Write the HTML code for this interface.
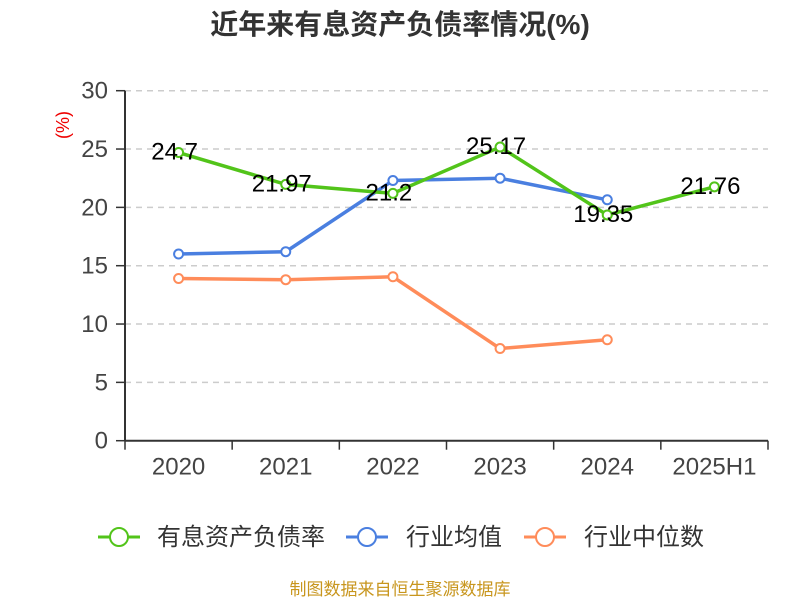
<!DOCTYPE html>
<html><head><meta charset="utf-8"><style>
html,body{margin:0;padding:0;background:#fff;}
svg text{font-family:"Liberation Sans","Noto Sans CJK SC",sans-serif;}
</style></head><body>
<svg id="chart" width="800" height="600" xmlns="http://www.w3.org/2000/svg">
<text x="400" y="34" text-anchor="middle" font-size="28" font-weight="bold" fill="#333">近年来有息资产负债率情况(%)</text>
<text transform="translate(69,125) rotate(-90)" text-anchor="middle" font-size="18" fill="#e00">(%)</text>
<g id="grid"></g><g id="axes"></g><g id="series"></g>
<g>
 <g><line x1="98" y1="537" x2="140" y2="537" stroke="#52c41a" stroke-width="3"/><circle cx="119" cy="537" r="9" fill="#fff" stroke="#52c41a" stroke-width="2"/><text x="157" y="545" font-size="24" fill="#333">有息资产负债率</text></g>
 <g><line x1="346" y1="537" x2="388" y2="537" stroke="#4a7fe0" stroke-width="3"/><circle cx="367" cy="537" r="9" fill="#fff" stroke="#4a7fe0" stroke-width="2"/><text x="406" y="545" font-size="24" fill="#333">行业均值</text></g>
 <g><line x1="524" y1="537" x2="566" y2="537" stroke="#ff8c5a" stroke-width="3"/><circle cx="545" cy="537" r="9" fill="#fff" stroke="#ff8c5a" stroke-width="2"/><text x="584" y="545" font-size="24" fill="#333">行业中位数</text></g>
</g>
<text x="400" y="595" text-anchor="middle" font-size="17" fill="#c8961e">制图数据来自恒生聚源数据库</text>
</svg>
<script>
const categories=["2020","2021","2022","2023","2024","2025H1"];
const debtRatio=[24.7,21.97,21.2,25.17,19.35,21.76];
const industryAvg=[16.0,16.2,22.3,22.5,20.65];
const industryMedian=[13.9,13.8,14.05,7.9,8.65];
const yTicks=[0,5,10,15,20,25,30];
const NS="http://www.w3.org/2000/svg";
const x0=125,x1=768,yTop=90.7,yBot=440.7,yMax=30;
const band=(x1-x0)/categories.length;
const xs=i=>x0+band*(i+0.5);
const ys=v=>yBot-(v/yMax)*(yBot-yTop);
function mk(tag,attrs,parent){const e=document.createElementNS(NS,tag);for(const k in attrs)e.setAttribute(k,attrs[k]);parent.appendChild(e);return e;}
const grid=document.getElementById('grid'),axes=document.getElementById('axes'),ser=document.getElementById('series');
yTicks.forEach(t=>{
 const y=ys(t);
 if(t>0){const g=mk('line',{x1:x0,x2:x1,y1:y,y2:y,stroke:'#ccc','stroke-dasharray':'6,5','stroke-width':1.5},grid);
 
 }
 mk('line',{x1:x0-9,x2:x0,y1:y,y2:y,stroke:'#333','stroke-width':1.5},axes);
 const l=mk('text',{x:x0-17,y:y+8,'text-anchor':'end','font-size':24,fill:'#444'},axes);l.textContent=t;
 
 
});
mk('line',{x1:x0,x2:x0,y1:yTop,y2:yBot,stroke:'#333','stroke-width':2},axes);
mk('line',{x1:x0,x2:x1,y1:yBot,y2:yBot,stroke:'#333','stroke-width':2},axes);
for(let i=0;i<=categories.length;i++){mk('line',{x1:x0+band*i,x2:x0+band*i,y1:yBot,y2:yBot+9,stroke:'#333','stroke-width':1.5},axes);}
categories.forEach((c,i)=>{const t=mk('text',{x:xs(i),y:yBot+34,'text-anchor':'middle','font-size':24,fill:'#444'},axes);t.textContent=c;
 
 });
function series(vals,color,name,labels){
 const g=mk('g',{},ser);
 
 
 mk('polyline',{points:vals.map((v,i)=>xs(i)+','+ys(v)).join(' '),fill:'none',stroke:color,'stroke-width':3.5},g);
 vals.forEach((v,i)=>{const c=mk('circle',{cx:xs(i),cy:ys(v),r:4.5,fill:'#fff',stroke:color,'stroke-width':2},g);
  
  
  if(labels){const t=mk('text',{x:xs(i)-4,y:ys(v)+7,'text-anchor':'middle','font-size':24,fill:'#000'},g);t.textContent=v;
   
   }
 });
}
series(industryMedian,'#ff8c5a','industry-median-line',false);
series(industryAvg,'#4a7fe0','industry-average-line',false);
series(debtRatio,'#52c41a','debt-ratio-line',true);
</script>
</body></html>
